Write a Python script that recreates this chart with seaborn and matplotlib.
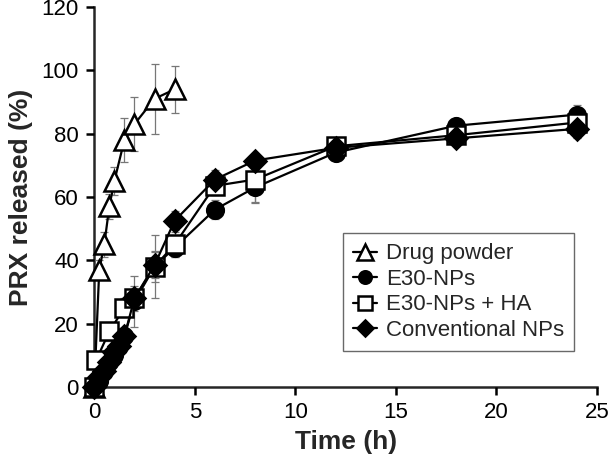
import matplotlib
matplotlib.use("Agg")
import matplotlib.pyplot as plt
import seaborn as sns
import numpy as np
import pandas as pd

# release data
t_drug = [0, 0.25, 0.5, 0.75, 1, 1.5, 2, 3, 4]
drug = [0, 37, 45, 57, 65, 78, 83, 91, 94]
drug_err = [0, 3, 4, 4, 4.5, 7, 8.5, 11, 7.5]

t_np = [0, 0.25, 0.5, 0.75, 1, 1.25, 1.5, 2, 3, 4, 6, 8, 12, 18, 24]
e30 = [0, 2, 5, 8, 10, 13, 16, 27, 38, 44, 56, 63, 74, 82.5, 86]
e30_err = [0, 1, 1, 1.5, 2, 2, 2.5, 8, 10, 3, 3, 5, 2, 2, 3]

t_ha = [0, 0.1, 0.75, 1.5, 2, 3, 4, 6, 8, 12, 18, 24]
e30_ha = [0, 8.5, 17.5, 25, 28, 38, 45, 63.5, 65.5, 76, 79.5, 83.5]
e30_ha_err = [0, 2, 3, 3, 4, 5, 4, 3, 7, 2, 3, 3]

conv = [0, 3, 5, 8, 11, 13, 16, 28, 38.5, 52.5, 65.5, 71.5, 75.5, 78.5, 81.5]
conv_err = [0, 1, 1, 1.5, 2, 2, 2.5, 3, 4, 3, 3, 2, 2, 2, 3]

series = [
    ("Drug powder", t_drug, drug, drug_err, "^", "white", 15),
    ("E30-NPs", t_np, e30, e30_err, "o", "black", 12),
    ("E30-NPs + HA", t_ha, e30_ha, e30_ha_err, "s", "white", 13),
    ("Conventional NPs", t_np, conv, conv_err, "D", "black", 11),
]

sns.set_style("ticks")
plt.rcParams['font.family'] = ['Liberation Sans', 'DejaVu Sans']

fig, ax = plt.subplots(figsize=(6.08, 4.65), dpi=100)
fig.subplots_adjust(left=0.155, right=0.982, top=0.985, bottom=0.168)

for i, (name, t, y, err, mk, fc, ms) in enumerate(series):
    eb = ax.errorbar(t, y, yerr=err, fmt="none", ecolor="#777777", elinewidth=0.9,
                     capsize=3, capthick=0.9, zorder=1 + i)
    df = pd.DataFrame({"t": t, "y": y})
    sns.lineplot(data=df, x="t", y="y", ax=ax, color="black", linewidth=1.6,
                 marker=mk, markersize=ms, markerfacecolor=fc,
                 markeredgecolor="black", markeredgewidth=1.8,
                 label=name, zorder=5 + i, clip_on=False)

ax.set_xlim(0, 25)
ax.set_ylim(0, 120)
ax.set_xticks([0, 5, 10, 15, 20, 25])
ax.set_yticks([0, 20, 40, 60, 80, 100, 120])
sns.despine(ax=ax)
for s in ["left", "bottom"]:
    ax.spines[s].set_linewidth(1.8)
    ax.spines[s].set_zorder(0)
ax.tick_params(axis="both", direction="out", length=6, width=1.8,
               labelsize=16, colors="black", pad=5)
ax.set_xlabel("Time (h)", fontsize=19, fontweight="bold", labelpad=5)
ax.set_ylabel("PRX released (%)", fontsize=19, fontweight="bold", labelpad=6)

leg = ax.legend(loc="lower right", bbox_to_anchor=(0.955, 0.095), fontsize=16,
                frameon=True, fancybox=False, edgecolor="#444444",
                handlelength=1.1, handletextpad=0.4, labelspacing=0.2,
                borderpad=0.45, borderaxespad=0, markerscale=0.75)
leg.get_frame().set_linewidth(1.0)

fig.savefig("out.png", dpi=100)
